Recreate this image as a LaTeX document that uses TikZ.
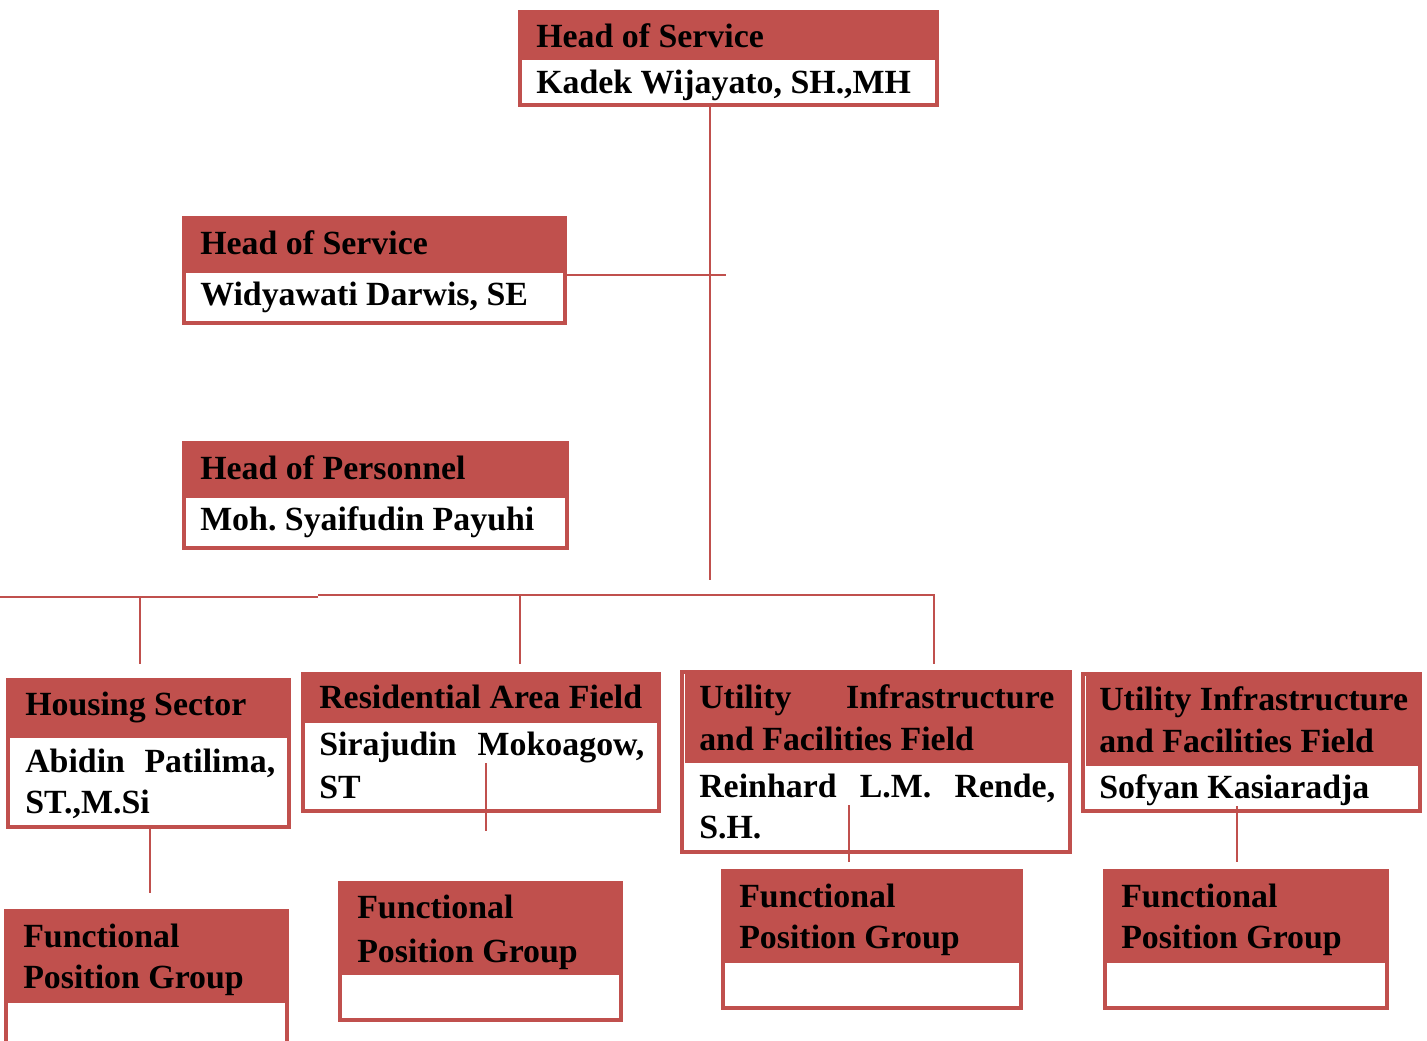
\documentclass[tikz,border=0pt]{standalone}
\usepackage{fontspec}
\setmainfont{Liberation Serif}
\usetikzlibrary{fit}
\definecolor{hred}{HTML}{C0504D}
\frenchspacing
\begin{document}
\begin{tikzpicture}[x=0.75pt,y=-0.75pt,
  boxln/.style={draw=hred,line width=2.6pt,inner sep=0pt},
  hdr/.style={fill=hred},
  conn/.style={draw=hred,line width=1.4pt},
  lbl/.style={inner sep=0pt,anchor=base west,font=\fontsize{25.4}{32}\selectfont\bfseries}]
\useasboundingbox (0,0) rectangle (1427,1040);
\clip (0,0) rectangle (1427,1040);

% ---- Box 1: Head of Service (top)
\fill[hdr] (520,12) rectangle (937,60);
\node[boxln,fit={(520,12)(937,105)}] (b1) {};
\node[lbl] (b1t) at (536,47) {Head of Service};
\node[lbl] (b1n) at (536,93) {Kadek Wijayato, SH.,MH};

% ---- Box 2: Head of Service
\fill[hdr] (184,218) rectangle (565,273);
\node[boxln,fit={(184,218)(565,323)}] (b2) {};
\node[lbl] (b2t) at (200,254) {Head of Service};
\node[lbl] (b2n) at (200,305) {Widyawati Darwis, SE};

% ---- Box 3: Head of Personnel
\fill[hdr] (184,443) rectangle (567,498);
\node[boxln,fit={(184,443)(567,548)}] (b3) {};
\node[lbl] (b3t) at (200,479) {Head of Personnel};
\node[lbl] (b3n) at (200,530) {Moh. Syaifudin Payuhi};

% ---- Housing Sector
\fill[hdr] (8,680) rectangle (289,738);
\node[boxln,fit={(8,680)(289,827)}] (hs) {};
\node[lbl] (hst) at (25,715) {Housing Sector};
\node[lbl] (hsn) at (25,772) {\makebox[187.5pt][s]{Abidin Patilima,}};
\node[lbl] (hsn2) at (25,813) {ST.,M.Si};

% ---- Residential Area Field
\fill[hdr] (303,674) rectangle (659,723);
\node[boxln,fit={(303,674)(659,811)}] (ra) {};
\node[lbl] (rat) at (319,708) {Residential Area Field};
\node[lbl] (ran) at (319,755) {\makebox[243.75pt][s]{Sirajudin Mokoagow,}};
\node[lbl] (ran2) at (319,798) {ST};

% ---- Utility Infrastructure 1
\fill[hdr] (685,672) rectangle (1070,763);
\node[boxln,fit={(682,672)(1070,852)}] (u1) {};
\node[lbl] (u1t) at (699,708) {\makebox[266.25pt][s]{Utility Infrastructure}};
\node[lbl] (u1t2) at (699,750) {and Facilities Field};
\node[lbl] (u1n) at (699,797) {\makebox[267pt][s]{Reinhard L.M. Rende,}};
\node[lbl] (u1n2) at (699,838) {S.H.};

% ---- Utility Infrastructure 2
\fill[hdr] (1086,674) rectangle (1420,766);
\node[boxln,fit={(1083,674)(1420,811)}] (u2) {};
\node[lbl] (u2t) at (1099,710) {Utility Infrastructure};
\node[lbl] (u2t2) at (1099,752) {and Facilities Field};
\node[lbl] (u2n) at (1099,798) {Sofyan Kasiaradja};

% ---- Functional Position Groups
\fill[hdr] (6,911) rectangle (287,1003);
\node[boxln,fit={(6,911)(287,1060)}] (f1) {};
\node[lbl] (f1a) at (23,947) {Functional};
\node[lbl] (f1b) at (23,988) {Position Group};

\fill[hdr] (340,883) rectangle (621,975);
\node[boxln,fit={(340,883)(621,1020)}] (f2) {};
\node[lbl] (f2a) at (357,918) {Functional};
\node[lbl] (f2b) at (357,962) {Position Group};

\fill[hdr] (723,871) rectangle (1021,963);
\node[boxln,fit={(723,871)(1021,1008)}] (f3) {};
\node[lbl] (f3a) at (739,907) {Functional};
\node[lbl] (f3b) at (739,948) {Position Group};

\fill[hdr] (1105,871) rectangle (1387,963);
\node[boxln,fit={(1105,871)(1387,1008)}] (f4) {};
\node[lbl] (f4a) at (1121,907) {Functional};
\node[lbl] (f4b) at (1121,948) {Position Group};

% ---- connectors
\coordinate (c1) at (710,580);
\coordinate (c2) at (726,275);
\coordinate (busL) at (0,597);
\coordinate (busM) at (318,597);
\coordinate (busM2) at (318,595);
\coordinate (busR) at (934,595);
\coordinate (d1) at (140,664);
\coordinate (d2) at (520,664);
\coordinate (d3) at (934,664);
\coordinate (e1) at (150,893);
\coordinate (e2a) at (486,763);
\coordinate (e2) at (486,831);
\coordinate (e3a) at (849,805);
\coordinate (e3) at (849,862);
\coordinate (e4a) at (1237,806);
\coordinate (e4) at (1237,862);

\draw[conn] (b1.south -| c1) -- (c1);
\draw[conn] (b2.east |- c2) -- (c2);
\draw[conn] (busL) -- (busM) (busM2) -- (busR) -- (d3);
\draw[conn] (d1 |- busL) -- (d1);
\draw[conn] (d2 |- busR) -- (d2);
\draw[conn] (hs.south -| e1) -- (e1);
\draw[conn] (e2a) -- (e2);
\draw[conn] (e3a) -- (e3);
\draw[conn] (e4a) -- (e4);
\end{tikzpicture}
\end{document}
